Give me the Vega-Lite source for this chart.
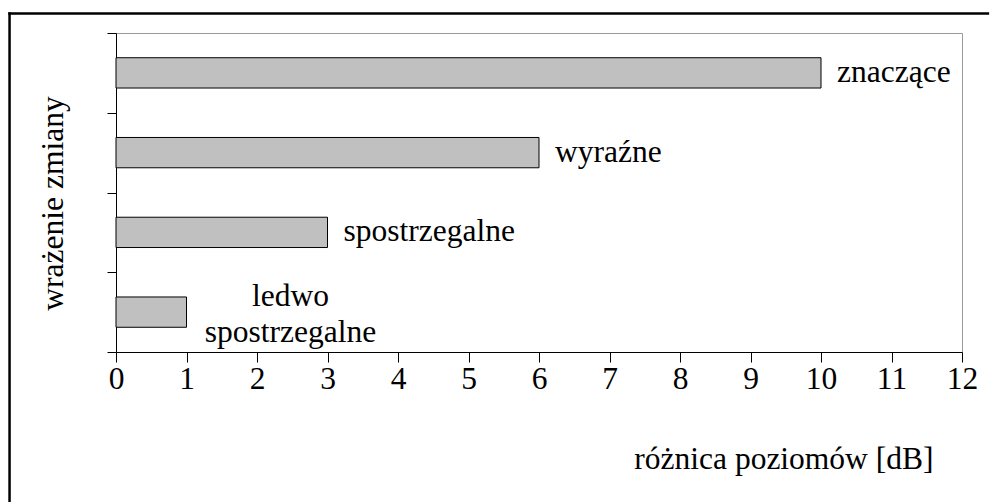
{
  "$schema": "https://vega.github.io/schema/vega-lite/v6.json",
  "width": 846,
  "height": 319,
  "autosize": {"type": "none"},
  "padding": {"left": 116, "top": 33, "right": 28, "bottom": 151},
  "background": "white",
  "config": {
    "font": "Liberation Serif",
    "view": {"stroke": "#9a9a9a", "strokeWidth": 1}
  },
  "data": {
    "values": [
      {"wrazenie": "znaczące", "db": 10},
      {"wrazenie": "wyraźne", "db": 6},
      {"wrazenie": "spostrzegalne", "db": 3},
      {"wrazenie": "ledwo spostrzegalne", "db": 1}
    ]
  },
  "layer": [
    {
      "data": {"values": [{}]},
      "layer": [
        {
          "mark": {"type": "rule", "stroke": "black", "strokeWidth": 2.5, "strokeCap": "butt", "clip": false},
          "encoding": {
            "x": {"datum": -1.51, "type": "quantitative", "scale": {"domain": [0, 12], "nice": false}, "axis": null},
            "y": {"datum": 1.065, "type": "quantitative", "scale": {"domain": [0, 1], "nice": false, "zero": false}, "axis": null},
            "y2": {"datum": -0.47}
          }
        },
        {
          "mark": {"type": "rule", "stroke": "black", "strokeWidth": 2.5, "strokeCap": "butt", "clip": false},
          "encoding": {
            "x": {"datum": -1.528, "type": "quantitative", "scale": {"domain": [0, 12], "nice": false}, "axis": null},
            "x2": {"datum": 12.385},
            "y": {"datum": 1.061, "type": "quantitative", "scale": {"domain": [0, 1], "nice": false, "zero": false}, "axis": null}
          }
        }
      ]
    },
    {
      "layer": [
        {
          "mark": {"type": "bar", "fill": "#c0c0c0", "stroke": "black", "strokeWidth": 1, "height": {"band": 0.38}},
          "encoding": {
            "y": {
              "field": "wrazenie",
              "type": "nominal",
              "sort": null,
              "scale": {"paddingInner": 0, "paddingOuter": 0},
              "axis": {
                "title": "wrażenie zmiany",
                "labels": false,
                "ticks": true,
                "tickBand": "extent",
                "tickSize": 9,
                "tickColor": "black",
                "domainColor": "black",
                "titleFontSize": 31.5,
                "titleFontWeight": "normal",
                "titleColor": "black",
                "titleAngle": -90,
                "titleAlign": "center",
                "titleBaseline": "alphabetic",
                "titleX": -54,
                "titleY": 170
              }
            },
            "x": {
              "field": "db",
              "type": "quantitative",
              "scale": {"domain": [0, 12], "nice": false},
              "axis": {
                "title": "różnica poziomów [dB]",
                "values": [0, 1, 2, 3, 4, 5, 6, 7, 8, 9, 10, 11, 12],
                "format": "d",
                "grid": false,
                "tickSize": 10,
                "tickColor": "black",
                "domainColor": "black",
                "labelFontSize": 31.5,
                "labelColor": "black",
                "labelBaseline": "alphabetic",
                "labelPadding": 26,
                "labelFlush": false,
                "labelOverlap": false,
                "titleFontSize": 31.5,
                "titleFontWeight": "normal",
                "titleColor": "black",
                "titleAlign": "right",
                "titleBaseline": "alphabetic",
                "titleAnchor": null,
                "titleX": 817,
                "titleY": 116
              }
            }
          }
        },
        {
          "transform": [{"filter": "datum.db > 1"}],
          "mark": {"type": "text", "align": "left", "baseline": "middle", "dx": 16, "fontSize": 31.5, "color": "black"},
          "encoding": {
            "y": {"field": "wrazenie", "type": "nominal", "sort": null},
            "x": {"field": "db", "type": "quantitative"},
            "text": {"field": "wrazenie"}
          }
        },
        {
          "transform": [{"filter": "datum.db <= 1"}],
          "mark": {"type": "text", "align": "center", "baseline": "middle", "dx": 104, "dy": -15, "fontSize": 31.5, "lineHeight": 36, "lineBreak": " ", "color": "black"},
          "encoding": {
            "y": {"field": "wrazenie", "type": "nominal", "sort": null},
            "x": {"field": "db", "type": "quantitative"},
            "text": {"field": "wrazenie"}
          }
        }
      ]
    }
  ],
  "resolve": {"scale": {"x": "independent", "y": "independent"}}
}
